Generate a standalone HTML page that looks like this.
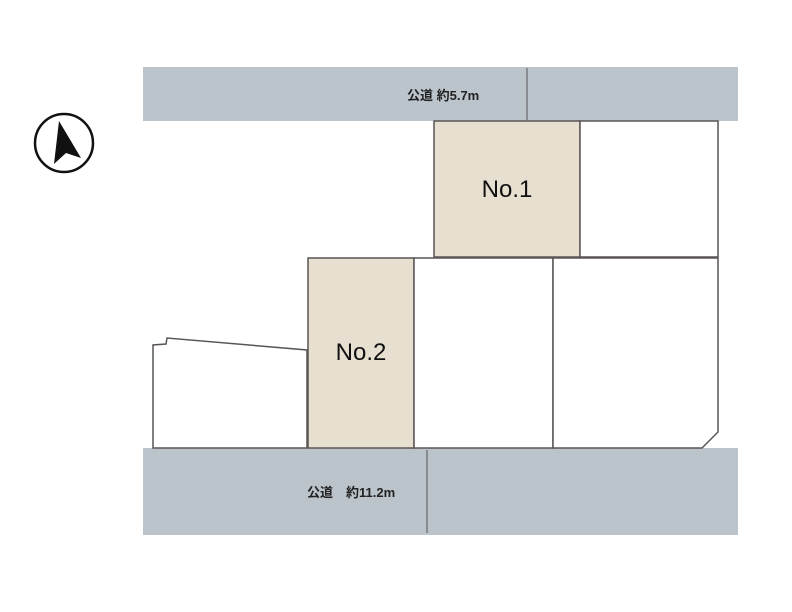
<!DOCTYPE html>
<html><head><meta charset="utf-8"><style>
body{margin:0;background:#fff;}
svg{display:block}
text{font-family:"Liberation Sans","Noto Sans CJK JP",sans-serif;}
</style></head><body>
<svg width="792" height="612" viewBox="0 0 792 612" xmlns="http://www.w3.org/2000/svg">
<rect x="143" y="67" width="595" height="54" fill="#bbc3cb"/>
<rect x="143" y="448" width="595" height="87" fill="#bbc3cb"/>
<g stroke="#5a5555" stroke-width="1.5" fill="#fff">
<rect x="434" y="121" width="146" height="136" fill="#e7dfd0"/>
<polygon points="580,121 718,121 718,257 580,257"/>
<rect x="308" y="258" width="106" height="190" fill="#e7dfd0"/>
<rect x="414" y="258" width="139" height="190"/>
<polygon points="553,258 718,258 718,432 702,448 553,448"/>
<polygon points="153,448 153,345 166,344 167,338 307,350 307,448"/>
</g>
<line x1="527" y1="68" x2="527" y2="120" stroke="#555" stroke-width="1"/>
<line x1="427" y1="450" x2="427" y2="533" stroke="#555" stroke-width="1"/>
<text x="407" y="100" font-size="13" font-weight="bold" fill="#222">公道 約5.7m</text>
<text x="307" y="497" font-size="13" font-weight="bold" fill="#222">公道　約11.2m</text>
<text x="507" y="197" font-size="24" text-anchor="middle" fill="#111">No.1</text>
<text x="361" y="360" font-size="24" text-anchor="middle" fill="#111">No.2</text>
<circle cx="64" cy="143" r="29" fill="none" stroke="#111" stroke-width="2.5"/>
<polygon points="59,121 54,164 66,153 81,158" fill="#111"/>
</svg>
</body></html>
